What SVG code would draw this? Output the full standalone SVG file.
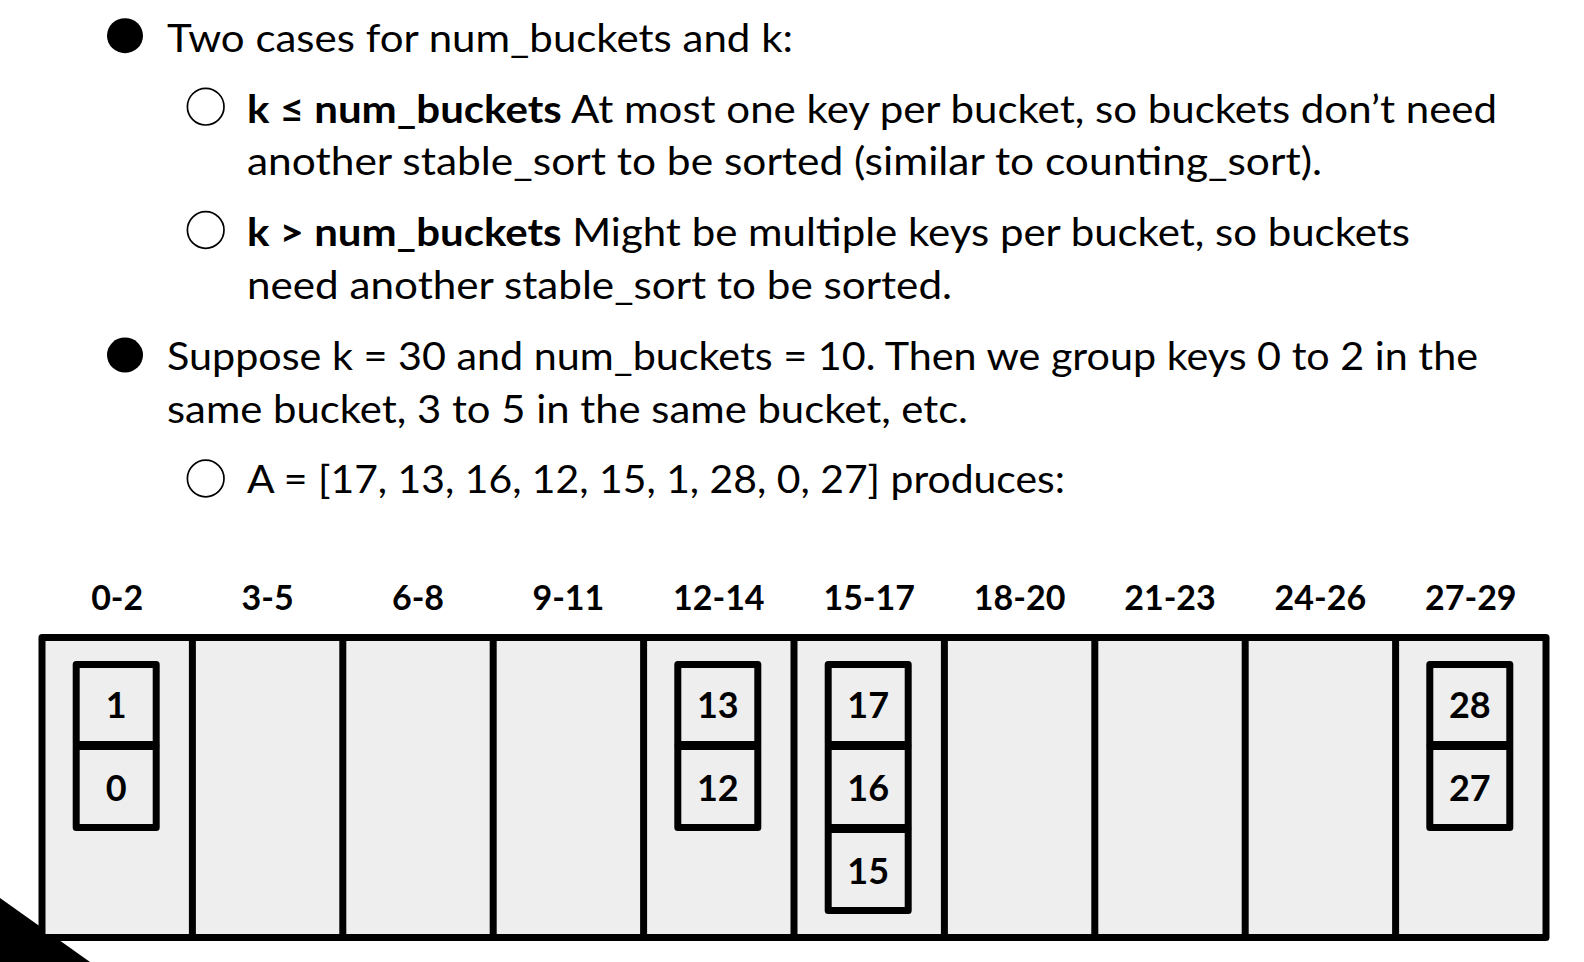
<svg xmlns="http://www.w3.org/2000/svg" width="1584" height="962" viewBox="0 0 1584 962">
<style>
.t{font-family:Lato,"Liberation Sans",sans-serif;font-size:39px;fill:#000}
.b{font-weight:bold}
.hd{font-family:Lato,"Liberation Sans",sans-serif;font-size:34px;font-weight:bold;fill:#000;text-anchor:middle}
.num{font-family:Lato,"Liberation Sans",sans-serif;font-size:36px;font-weight:bold;fill:#000;text-anchor:middle}
.cell{fill:#EEEEEE;stroke:#000;stroke-width:7;stroke-linejoin:round}
.div{stroke:#000;stroke-width:7}
.hollow{fill:#fff;stroke:#000;stroke-width:1.7}
</style>
<rect width="1584" height="962" fill="#fff"/>
<polygon points="0,898 90,962 0,962" fill="#000"/>

<g id="text">
<ellipse cx="125" cy="35.7" rx="18" ry="17.5" fill="#000"/>
<text class="t" x="167" y="52" textLength="626" lengthAdjust="spacingAndGlyphs">Two cases for num_buckets and k:</text>
<circle class="hollow" cx="205.7" cy="106.7" r="18.3"/>
<text class="t" x="247" y="123" textLength="1250" lengthAdjust="spacingAndGlyphs"><tspan class="b">k ≤ num_buckets</tspan> At most one key per bucket, so buckets don’t need</text>
<text class="t" x="247" y="175" textLength="1075" lengthAdjust="spacingAndGlyphs">another stable_sort to be sorted (similar to counting_sort).</text>
<circle class="hollow" cx="205.7" cy="230" r="18.3"/>
<text class="t" x="247" y="246" textLength="1163" lengthAdjust="spacingAndGlyphs"><tspan class="b">k &gt; num_buckets</tspan> Might be multiple keys per bucket, so buckets</text>
<text class="t" x="247" y="299" textLength="705" lengthAdjust="spacingAndGlyphs">need another stable_sort to be sorted.</text>
<ellipse cx="125" cy="355" rx="18" ry="17.5" fill="#000"/>
<text class="t" x="167" y="370" textLength="1311" lengthAdjust="spacingAndGlyphs">Suppose k = 30 and num_buckets = 10. Then we group keys 0 to 2 in the</text>
<text class="t" x="167" y="423" textLength="801" lengthAdjust="spacingAndGlyphs">same bucket, 3 to 5 in the same bucket, etc.</text>
<circle class="hollow" cx="205.7" cy="478.5" r="18.3"/>
<text class="t" x="247" y="493" textLength="818" lengthAdjust="spacingAndGlyphs">A = [17, 13, 16, 12, 15, 1, 28, 0, 27] produces:</text>
</g>

<g id="headers">
<text class="hd" x="117.2" y="610">0-2</text>
<text class="hd" x="267.6" y="610">3-5</text>
<text class="hd" x="418" y="610">6-8</text>
<text class="hd" x="568.4" y="610">9-11</text>
<text class="hd" x="718.8" y="610">12-14</text>
<text class="hd" x="869.2" y="610">15-17</text>
<text class="hd" x="1019.6" y="610">18-20</text>
<text class="hd" x="1170" y="610">21-23</text>
<text class="hd" x="1320.4" y="610">24-26</text>
<text class="hd" x="1470.8" y="610">27-29</text>
</g>

<g id="table">
<rect class="cell" x="42" y="637.5" width="1504" height="300"/>
<line class="div" x1="192.4" y1="637.5" x2="192.4" y2="937.5"/>
<line class="div" x1="342.8" y1="637.5" x2="342.8" y2="937.5"/>
<line class="div" x1="493.2" y1="637.5" x2="493.2" y2="937.5"/>
<line class="div" x1="643.6" y1="637.5" x2="643.6" y2="937.5"/>
<line class="div" x1="794" y1="637.5" x2="794" y2="937.5"/>
<line class="div" x1="944.4" y1="637.5" x2="944.4" y2="937.5"/>
<line class="div" x1="1094.8" y1="637.5" x2="1094.8" y2="937.5"/>
<line class="div" x1="1245.2" y1="637.5" x2="1245.2" y2="937.5"/>
<line class="div" x1="1395.6" y1="637.5" x2="1395.6" y2="937.5"/>
</g>

<g id="bucket-0-2">
<rect class="cell" x="76.2" y="664.5" width="80" height="80"/>
<rect class="cell" x="76.2" y="746.5" width="80" height="81"/>
<text class="num" x="116.2" y="718">1</text>
<text class="num" x="116.2" y="801">0</text>
</g>
<g id="bucket-12-14">
<rect class="cell" x="677.8" y="664.5" width="80" height="80"/>
<rect class="cell" x="677.8" y="746.5" width="80" height="81"/>
<text class="num" x="717.8" y="718">13</text>
<text class="num" x="717.8" y="801">12</text>
</g>
<g id="bucket-15-17">
<rect class="cell" x="828.2" y="664.5" width="80" height="80"/>
<rect class="cell" x="828.2" y="746.5" width="80" height="81"/>
<rect class="cell" x="828.2" y="829.5" width="80" height="81"/>
<text class="num" x="868.2" y="718">17</text>
<text class="num" x="868.2" y="801">16</text>
<text class="num" x="868.2" y="884">15</text>
</g>
<g id="bucket-27-29">
<rect class="cell" x="1429.8" y="664.5" width="80" height="80"/>
<rect class="cell" x="1429.8" y="746.5" width="80" height="81"/>
<text class="num" x="1469.8" y="718">28</text>
<text class="num" x="1469.8" y="801">27</text>
</g>
<g id="connectors"></g>
</svg>
